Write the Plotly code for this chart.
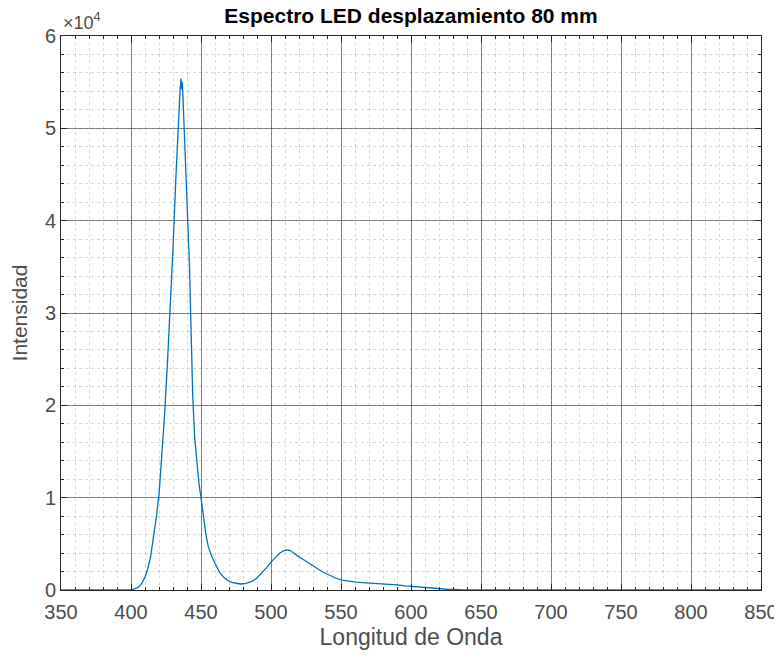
import plotly.graph_objects as go

# Wavelength (nm) and intensity (counts)
wavelength = [350, 370, 390, 400, 402, 404, 406, 408, 410, 412, 414, 416, 418, 420,
              422, 424, 426, 428, 430, 432, 434, 435, 435.7, 436.2, 436.7, 437.5,
              438.1, 439.5, 440.9, 441.8, 442.6, 443.4, 444.1, 445.5, 447, 448.5,
              450, 451.7, 453.5, 455.2, 457.5, 460, 463, 466, 469, 472, 475, 478,
              482, 486, 490, 493.3, 497, 500.5, 503.5, 506.4, 509, 511.2, 513.5,
              516, 519, 523, 528, 532.6, 537, 542, 546, 550.5, 555, 561, 568,
              575.5, 582, 590, 596, 602, 608, 614, 620, 626, 635, 650, 700, 750,
              800, 850]
intensity = [0, 0, 0, 0, 100, 200, 400, 800, 1400, 2300, 3600, 5500, 7800, 10300,
             14200, 19000, 24500, 30500, 37000, 44500, 51500, 54000, 55400, 54200,
             55000, 52000, 50000, 45000, 40000, 35000, 30000, 25500, 21000, 16500,
             13600, 11600, 10000, 7800, 6000, 4700, 3700, 2900, 2000, 1400, 1050,
             830, 700, 650, 720, 900, 1300, 1800, 2450, 3100, 3600, 4000, 4250,
             4350, 4300, 4000, 3700, 3300, 2800, 2350, 1950, 1600, 1300, 1080, 950,
             850, 780, 720, 650, 550, 450, 360, 280, 180, 120, 80, 40, 20, 10, 10,
             10, 10]

x_ticks = [350, 400, 450, 500, 550, 600, 650, 700, 750, 800, 850]
y_ticks = [0, 10000, 20000, 30000, 40000, 50000, 60000]
y_tick_labels = ["0", "1", "2", "3", "4", "5", "6"]

axis_col = "#262626"
label_col = "#4d4d4d"
font_family = "Liberation Sans, Arial, sans-serif"

# the page has an 8px body margin, so the figure is sized/offset to compensate
W, H = 774, 652

fig = go.Figure()
fig.add_trace(go.Scatter(x=wavelength, y=intensity, mode="lines",
                         line=dict(color="#0072BD", width=1.3),
                         showlegend=False, hoverinfo="skip"))

common = dict(
    showline=True, linecolor=axis_col, linewidth=1, mirror="ticks",
    ticks="inside", ticklen=6, tickcolor=axis_col, tickwidth=1,
    showgrid=True, gridcolor="rgba(38,38,38,0.55)", gridwidth=1,
    zeroline=False, automargin=False,
    tickfont=dict(family=font_family, size=20, color=label_col),
)

fig.update_xaxes(
    range=[350, 850], tickvals=x_ticks, ticktext=[str(v) for v in x_ticks],
    ticklabelstandoff=4,
    title=dict(text="Longitud de Onda", font=dict(family=font_family, size=23, color=label_col), standoff=6),
    minor=dict(dtick=10, tick0=350, ticks="inside", ticklen=3, tickcolor=axis_col,
               showgrid=True, gridcolor="rgba(38,38,38,0.18)", griddash="dot", gridwidth=1),
    **common,
)
fig.update_yaxes(
    range=[0, 60000], tickvals=y_ticks, ticktext=y_tick_labels,
    title=dict(text="Intensidad", font=dict(family=font_family, size=21, color=label_col), standoff=14),
    minor=dict(dtick=2000, tick0=0, ticks="inside", ticklen=3, tickcolor=axis_col,
               showgrid=True, gridcolor="rgba(38,38,38,0.18)", griddash="dot", gridwidth=1),
    **common,
)

fig.update_layout(
    width=W, height=H,
    margin=dict(l=53, r=21, t=28, b=70),
    paper_bgcolor="white", plot_bgcolor="white",
    title=dict(text="<b>Espectro LED desplazamiento 80 mm</b>", x=403/W, xanchor="center",
               y=1.0, yanchor="top", pad=dict(t=0),
               font=dict(family=font_family, size=21, color="#000000")),
    annotations=[dict(text="×10<sup>4</sup>", xref="paper", yref="paper", x=0, y=1,
                      xanchor="left", yanchor="bottom", yshift=1, showarrow=False,
                      font=dict(family=font_family, size=18, color=label_col))],
)

fig.write_html("out.html")
